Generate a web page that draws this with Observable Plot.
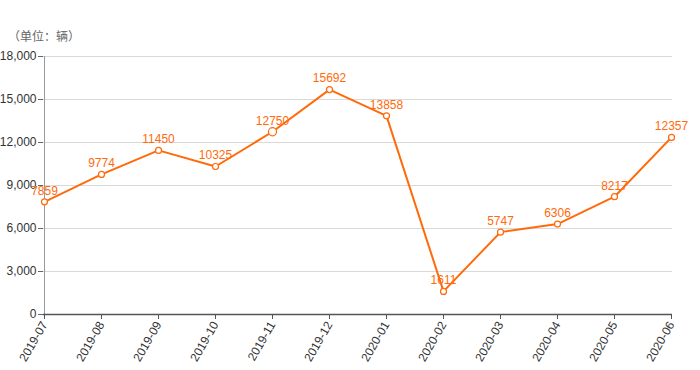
<!DOCTYPE html>
<html>
<head>
<meta charset="utf-8">
<script src="https://cdn.jsdelivr.net/npm/d3@7"></script>
<script src="https://cdn.jsdelivr.net/npm/@observablehq/plot@0.6"></script>
<style>
  body { margin: 0; background: #fff; }
  #wrap { position: relative; width: 700px; height: 370px; font-family: "Liberation Sans", Arial, "Noto Sans CJK SC", sans-serif; }
  #unit { position: absolute; left: 8px; top: 27px; font-size: 12px; color: #666; }
  svg { font-family: "Liberation Sans", Arial, "Noto Sans CJK SC", sans-serif; }
</style>
</head>
<body>
<div id="wrap"><div id="unit">（单位：辆）</div></div>
<script>
const months = ["2019-07","2019-08","2019-09","2019-10","2019-11","2019-12","2020-01","2020-02","2020-03","2020-04","2020-05","2020-06"];
const values = [7859, 9774, 11450, 10325, 12750, 15692, 13858, 1611, 5747, 6306, 8217, 12357];
const yTicks = [0, 3000, 6000, 9000, 12000, 15000, 18000];
const highlight = "2019-11";

const data = months.map((m, i) => ({month: m, value: values[i]}));
const orange = "#ff6a0a";

const chart = Plot.plot({
  width: 700,
  height: 370,
  marginLeft: 43,
  marginRight: 28,
  marginTop: 56,
  marginBottom: 56,
  style: {fontSize: "12px", color: "#333", background: "transparent"},
  x: {type: "point", domain: months, padding: 0, label: null},
  y: {domain: [0, 18000], label: null},
  marks: [
    Plot.gridY(yTicks, {stroke: "#d9d9d9", strokeOpacity: 1}),
    Plot.ruleX([months[0]], {stroke: "#999", strokeWidth: 1}),
    Plot.axisY(yTicks, {tickFormat: d3.format(","), tickSize: 5, tickPadding: 2, stroke: "#666", fill: "#333"}),
    Plot.axisX({tickRotate: -60, tickSize: 5, tickPadding: 3, stroke: "#555", fill: "#333"}),
    Plot.ruleY([0], {stroke: "#555", strokeWidth: 1.5}),
    Plot.line(data, {x: "month", y: "value", stroke: orange, strokeWidth: 2}),
    Plot.dot(data, {x: "month", y: "value", r: d => d.month === highlight ? 4 : 2.2, fill: "#fff", stroke: orange, strokeWidth: 1.2}),
    Plot.text(data, {x: "month", y: "value", text: d => String(d.value), dy: -11, fill: orange, fontSize: 12})
  ]
});
document.getElementById("wrap").appendChild(chart);
</script>
</body>
</html>
